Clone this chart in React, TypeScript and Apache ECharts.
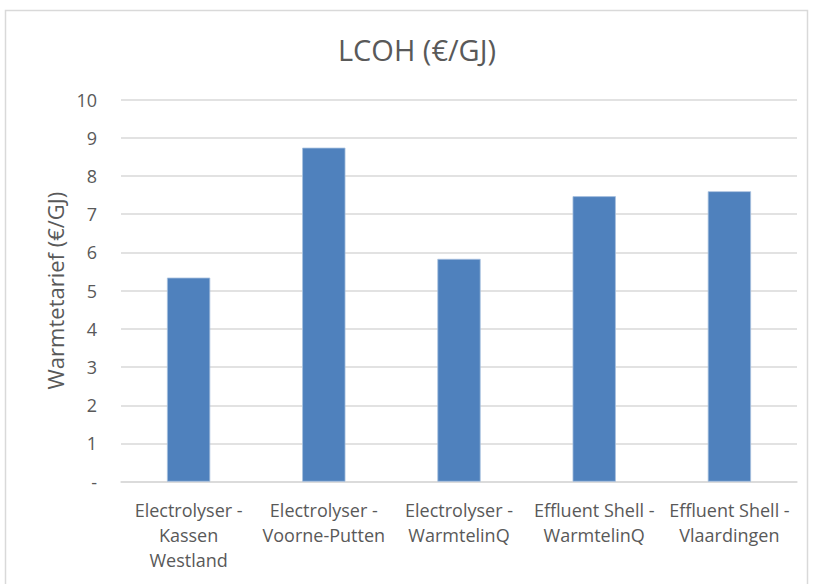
import React, { useEffect, useRef } from "react";
import * as echarts from "echarts";

const categories = [
  "Electrolyser -\nKassen\nWestland",
  "Electrolyser -\nVoorne-Putten",
  "Electrolyser -\nWarmtelinQ",
  "Effluent Shell -\nWarmtelinQ",
  "Effluent Shell -\nVlaardingen",
];
const lcohValues = [5.34, 8.74, 5.83, 7.47, 7.6];

const FONT = "'Open Sans', Roboto, sans-serif";
const TEXT = "#595959";

export default function App() {
  const ref = useRef<HTMLDivElement>(null);

  useEffect(() => {
    if (!ref.current) return;
    const chart = echarts.init(ref.current, null, { renderer: "svg" });
    chart.setOption({
      animation: false,
      backgroundColor: "#ffffff",
      textStyle: { fontFamily: FONT },
      title: {
        text: "LCOH (€/GJ)",
        left: 412,
        top: 30,
        textAlign: "center",
        textStyle: { fontFamily: FONT, fontSize: 29, fontWeight: "normal", color: TEXT },
      },
      graphic: [
        {
          type: "rect",
          shape: { x: 5.5, y: 10.5, width: 802, height: 600 },
          style: { fill: "none", stroke: "#d9d9d9", lineWidth: 1.5 },
          silent: true,
        },
      ],
      grid: { left: 121, right: 16, top: 99.5, bottom: 102.3 },
      xAxis: {
        type: "category",
        data: categories,
        axisTick: { show: false },
        axisLine: { lineStyle: { color: "#d9d9d9", width: 1.5 } },
        axisLabel: {
          interval: 0,
          margin: 16,
          fontFamily: FONT,
          fontSize: 18,
          lineHeight: 25,
          color: TEXT,
        },
      },
      yAxis: {
        type: "value",
        min: 0,
        max: 10,
        interval: 1,
        name: "Warmtetarief (€/GJ)",
        nameLocation: "middle",
        nameGap: 52,
        nameRotate: 90,
        nameTextStyle: { fontFamily: FONT, fontSize: 22, color: TEXT },
        axisLine: { show: false },
        axisTick: { show: false },
        axisLabel: {
          margin: 24,
          fontFamily: FONT,
          fontSize: 18,
          color: TEXT,
          formatter: (v: number) => (v === 0 ? "-" : String(v)),
        },
        splitLine: { lineStyle: { color: "#d9d9d9", width: 1.5 } },
      },
      series: [
        {
          type: "bar",
          data: lcohValues,
          barWidth: "32%",
          itemStyle: { color: "#4f81bd", borderColor: "#a7c0de", borderWidth: 0.8 },
        },
      ],
    });
    return () => chart.dispose();
  }, []);

  return (
    <div
      ref={ref}
      style={{ position: "fixed", left: 0, top: 0, width: 813, height: 584 }}
    />
  );
}
